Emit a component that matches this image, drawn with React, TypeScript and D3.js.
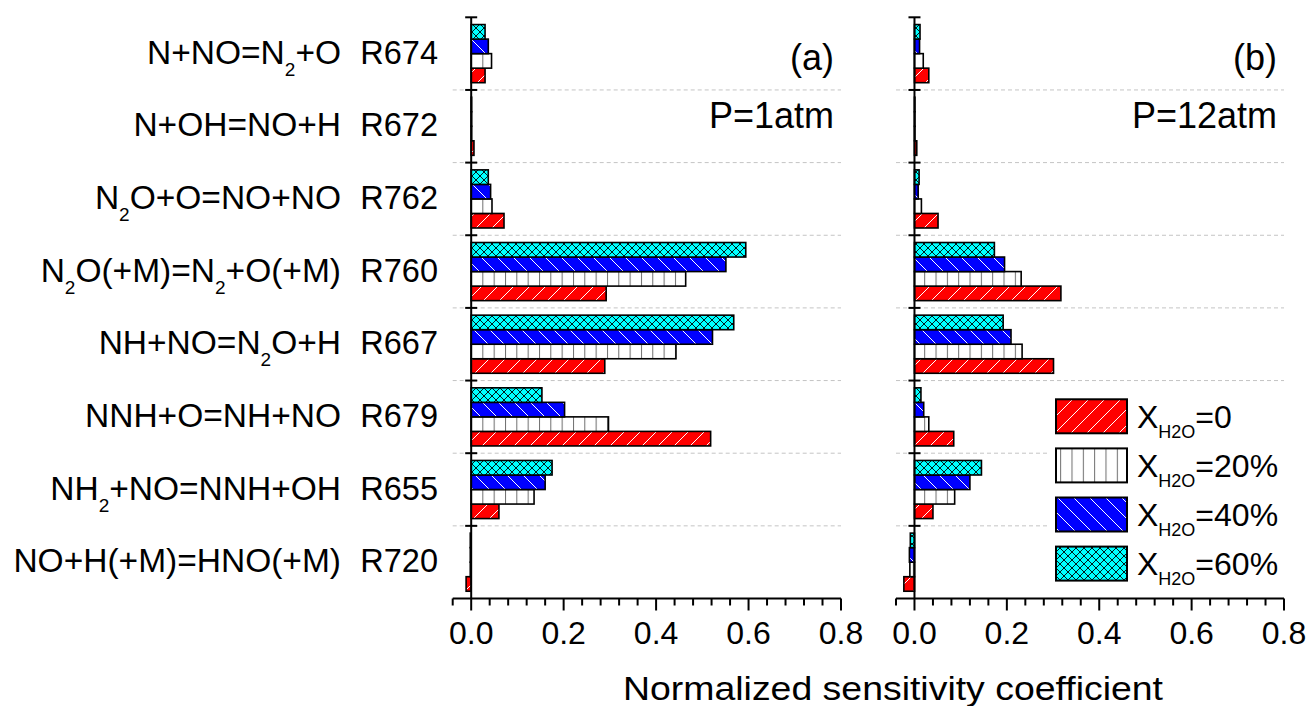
import React from "react";
import * as d3 from "d3";

// ---------- DATA ----------
const categories = ["R674", "R672", "R762", "R760", "R667", "R679", "R655", "R720"]; // top -> bottom
const reactionLabels = [
  "N+NO=N_2+O",
  "N+OH=NO+H",
  "N_2O+O=NO+NO",
  "N_2O(+M)=N_2+O(+M)",
  "NH+NO=N_2O+H",
  "NNH+O=NH+NO",
  "NH_2+NO=NNH+OH",
  "NO+H(+M)=HNO(+M)",
];
const seriesKeys = ["0", "20", "40", "60"];
const seriesLegend = ["=0", "=20%", "=40%", "=60%"];

// Panel (a) P = 1 atm
const a_x0 = [0.030, 0.006, 0.071, 0.292, 0.289, 0.518, 0.060, -0.011];
const a_x20 = [0.044, 0.001, 0.045, 0.464, 0.443, 0.297, 0.136, -0.002];
const a_x40 = [0.037, 0.001, 0.042, 0.551, 0.522, 0.202, 0.160, -0.002];
const a_x60 = [0.030, 0.001, 0.037, 0.594, 0.568, 0.153, 0.175, -0.002];

// Panel (b) P = 12 atm
const b_x0 = [0.031, 0.005, 0.051, 0.317, 0.301, 0.085, 0.040, -0.023];
const b_x20 = [0.019, 0.001, 0.015, 0.231, 0.233, 0.031, 0.087, -0.010];
const b_x40 = [0.011, 0.001, 0.008, 0.195, 0.209, 0.020, 0.120, -0.011];
const b_x60 = [0.012, 0.001, 0.010, 0.173, 0.192, 0.014, 0.145, -0.009];

const xMajorTicks = [0, 0.2, 0.4, 0.6, 0.8];
const xDomain: [number, number] = [-0.04, 0.8];

// ---------- LAYOUT ----------
const W = 1311;
const H = 706;
const FONT = "'Liberation Sans', Arial, Helvetica, sans-serif";
const plotTop = 17.3;
const plotBottom = 598.5;

const fills: Record<string, string> = {
  "0": "url(#hatchRed)",
  "20": "url(#vLines)",
  "40": "url(#hatchBlue)",
  "60": "url(#crossCyan)",
};

function SubText({
  text,
  x,
  y,
  size,
  subSize,
  subDy,
  anchor,
}: {
  text: string;
  x: number;
  y: number;
  size: number;
  subSize: number;
  subDy: number;
  anchor: string;
}) {
  const parts = text.split(/(_\d+)/).filter((p) => p.length > 0);
  let shifted = false;
  return (
    <text x={x} y={y} fontSize={size} fontFamily={FONT} textAnchor={anchor} fill="#000">
      {parts.map((p, i) => {
        if (p.startsWith("_")) {
          shifted = true;
          return (
            <tspan key={i} fontSize={subSize} dy={subDy}>
              {p.slice(1)}
            </tspan>
          );
        }
        const dy = shifted ? -subDy : 0;
        shifted = false;
        return (
          <tspan key={i} dy={dy}>
            {p}
          </tspan>
        );
      })}
    </text>
  );
}

function Panel({
  x0,
  x1,
  series,
  label,
  pressure,
}: {
  x0: number;
  x1: number;
  series: Record<string, number[]>;
  label: string;
  pressure: string;
}) {
  const xs = d3.scaleLinear().domain(xDomain).range([x0, x1]);
  const ys = d3.scaleBand<string>().domain(categories).range([plotTop, plotBottom]).padding(0);
  const bw = ys.bandwidth();
  const inner = d3
    .scaleBand<string>()
    .domain(["60", "40", "20", "0"])
    .range([0, bw])
    .paddingInner(0)
    .paddingOuter(0.5);
  const minorTicks = d3.range(-0.04, 0.8001, 0.04).map((v) => Math.round(v * 100) / 100);
  const zeroX = xs(0);
  const boundaries = categories.map((c) => ys(c) as number);
  return (
    <g>
      {/* grid */}
      {boundaries.slice(1).map((y, i) => (
        <line
          key={"g" + i}
          x1={x0}
          x2={x1}
          y1={y}
          y2={y}
          stroke="#c4c4c4"
          strokeWidth={1}
          strokeDasharray="4,3"
        />
      ))}
      {/* bars */}
      {categories.map((c, ci) =>
        seriesKeys.map((k) => {
          const v = series[k][ci];
          const xa = xs(Math.min(0, v));
          const w = Math.abs(xs(v) - zeroX);
          const y = (ys(c) as number) + (inner(k) as number);
          return (
            <rect
              key={c + k}
              x={xa}
              y={y}
              width={w}
              height={inner.bandwidth()}
              fill={fills[k]}
              stroke="#000"
              strokeWidth={1.6}
            />
          );
        })
      )}
      {/* y axis */}
      <line x1={zeroX} x2={zeroX} y1={plotTop} y2={plotBottom} stroke="#000" strokeWidth={2} />
      {boundaries.map((y, i) => (
        <line key={"yt" + i} x1={zeroX - 6} x2={zeroX + 6} y1={y} y2={y} stroke="#000" strokeWidth={2} />
      ))}
      {/* x axis */}
      <line x1={x0} x2={x1} y1={plotBottom} y2={plotBottom} stroke="#000" strokeWidth={2} />
      {minorTicks.map((t, i) => {
        const major = xMajorTicks.some((m) => Math.abs(m - t) < 1e-6);
        return (
          <line
            key={"xt" + i}
            x1={xs(t)}
            x2={xs(t)}
            y1={plotBottom}
            y2={plotBottom + (major ? 12 : 7)}
            stroke="#000"
            strokeWidth={2}
          />
        );
      })}
      {xMajorTicks.map((t, i) => (
        <text
          key={"xl" + i}
          x={xs(t)}
          y={644}
          fontSize={32}
          fontFamily={FONT}
          textAnchor="middle"
          fill="#000"
        >
          {d3.format(".1f")(t)}
        </text>
      ))}
      {/* annotations */}
      <text x={x1 - 7} y={70} fontSize={36} fontFamily={FONT} textAnchor="end" fill="#000">
        {label}
      </text>
      <text x={x1 - 7} y={128} fontSize={36} fontFamily={FONT} textAnchor="end" fill="#000">
        {pressure}
      </text>
    </g>
  );
}

export default function App() {
  const ys = d3.scaleBand<string>().domain(categories).range([plotTop, plotBottom]).padding(0);
  const bw = ys.bandwidth();
  const legendTops = [399.3, 448.4, 497.5, 546.6];
  return (
    <svg
      width={W}
      height={H}
      viewBox={`0 0 ${W} ${H}`}
      style={{ position: "absolute", left: 0, top: 0, background: "#fff" }}
    >
      <defs>
        <pattern id="hatchRed" width={16} height={16} patternUnits="userSpaceOnUse">
          <rect width={16} height={16} fill="#ff0000" />
          <path d="M0,16 L16,0 M-4,4 L4,-4 M12,20 L20,12" stroke="#fff" strokeWidth={1} />
        </pattern>
        <pattern id="hatchBlue" width={16} height={16} patternUnits="userSpaceOnUse">
          <rect width={16} height={16} fill="#0000ff" />
          <path d="M0,0 L16,16 M-4,12 L4,20 M12,-4 L20,4" stroke="#fff" strokeWidth={1} />
        </pattern>
        <pattern id="vLines" width={11.33} height={10} patternUnits="userSpaceOnUse" patternTransform="translate(471,0)">
          <rect width={11.33} height={10} fill="#fff" />
          <line x1={0} x2={0} y1={0} y2={10} stroke="#6e6e6e" strokeWidth={2} />
        </pattern>
        <pattern id="crossCyan" width={8} height={8} patternUnits="userSpaceOnUse">
          <rect width={8} height={8} fill="#00ffff" />
          <path d="M0,0 L8,8 M8,0 L0,8" stroke="#000" strokeWidth={0.9} />
        </pattern>
      </defs>
      <rect width={W} height={H} fill="#fff" />

      {/* y category labels */}
      {categories.map((c, i) => {
        const cy = (ys(c) as number) + bw / 2 + 10;
        return (
          <g key={c}>
            <SubText text={reactionLabels[i]} x={341} y={cy} size={33.5} subSize={19} subDy={12} anchor="end" />
            <text x={438} y={cy} fontSize={32.5} fontFamily={FONT} textAnchor="end" fill="#000">
              {c}
            </text>
          </g>
        );
      })}

      <Panel
        x0={452.7}
        x1={841}
        series={{ "0": a_x0, "20": a_x20, "40": a_x40, "60": a_x60 }}
        label="(a)"
        pressure="P=1atm"
      />
      <Panel
        x0={896}
        x1={1284}
        series={{ "0": b_x0, "20": b_x20, "40": b_x40, "60": b_x60 }}
        label="(b)"
        pressure="P=12atm"
      />

      {/* legend */}
      <rect x={1048} y={390} width={236} height={200} fill="#fff" />
      {seriesKeys.map((k, i) => (
        <g key={"lg" + k}>
          <rect x={1056} y={legendTops[i]} width={71} height={34} fill={fills[k]} stroke="#000" strokeWidth={2} />
          <text x={1137} y={legendTops[i] + 28.3} fontSize={32} fontFamily={FONT} fill="#000">
            <tspan>X</tspan>
            <tspan fontSize={18} dy={10.5}>H2O</tspan>
            <tspan dy={-10.5}>{seriesLegend[i]}</tspan>
          </text>
        </g>
      ))}

      {/* axis title */}
      <text
        x={893}
        y={700}
        fontSize={34}
        fontFamily={FONT}
        textAnchor="middle"
        textLength={540}
        lengthAdjust="spacingAndGlyphs"
        fill="#000"
      >
        Normalized sensitivity coefficient
      </text>
    </svg>
  );
}
